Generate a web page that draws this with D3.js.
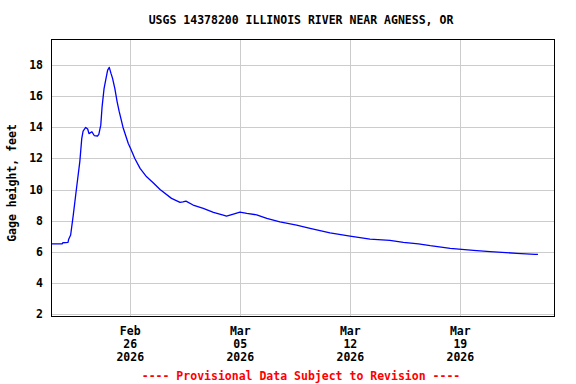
<!DOCTYPE html>
<html>
<head>
<meta charset="utf-8">
<script src="https://cdn.jsdelivr.net/npm/d3@7"></script>
<style>
  body { margin: 0; background: #fff; }
  text { font-family: "DejaVu Sans Mono", monospace; font-weight: bold; }
</style>
</head>
<body>
<svg id="chart" width="576" height="384"></svg>
<script>
// gage height readings
const times = [
  "2026-02-20 23:00", "2026-02-21 16:00", "2026-02-21 17:00", "2026-02-22 01:00",
  "2026-02-22 02:00", "2026-02-22 05:00", "2026-02-22 09:00", "2026-02-22 14:00",
  "2026-02-22 19:00", "2026-02-22 22:00", "2026-02-23 00:00", "2026-02-23 04:00",
  "2026-02-23 07:00", "2026-02-23 09:00", "2026-02-23 13:30", "2026-02-23 17:00",
  "2026-02-23 22:00", "2026-02-24 00:00", "2026-02-24 03:00", "2026-02-24 05:00",
  "2026-02-24 08:00", "2026-02-24 11:00", "2026-02-24 13:30", "2026-02-24 16:00",
  "2026-02-24 18:30", "2026-02-24 21:00", "2026-02-25 00:30", "2026-02-25 04:00",
  "2026-02-25 07:00", "2026-02-25 13:00", "2026-02-25 21:00", "2026-02-26 00:30",
  "2026-02-26 07:00", "2026-02-26 15:00", "2026-02-27 01:00", "2026-02-27 11:00",
  "2026-02-27 21:30", "2026-02-28 15:00",
  "2026-03-01 04:00", "2026-03-01 08:30", "2026-03-01 13:00", "2026-03-02 00:00",
  "2026-03-02 15:30", "2026-03-03 07:00", "2026-03-03 22:00", "2026-03-04 03:00",
  "2026-03-04 13:30", "2026-03-04 23:30", "2026-03-05 10:00", "2026-03-06 01:00",
  "2026-03-06 16:30", "2026-03-07 12:30", "2026-03-08 14:00", "2026-03-09 10:30",
  "2026-03-10 17:00", "2026-03-11 23:30", "2026-03-13 06:00", "2026-03-14 12:30",
  "2026-03-15 09:00", "2026-03-16 08:00", "2026-03-17 02:00", "2026-03-18 08:30",
  "2026-03-19 20:00", "2026-03-20 21:30", "2026-03-22 14:00", "2026-03-23 18:00",
  "2026-03-23 22:30"
];
const gageHeight = [
  6.5, 6.5, 6.57, 6.6,
  6.8, 7.07, 8.35, 10.1,
  11.8, 13.3, 13.77, 14.0,
  13.9, 13.6, 13.72, 13.48,
  13.45, 13.55, 14.15, 15.33,
  16.5, 17.16, 17.7, 17.87,
  17.5, 17.16, 16.5, 15.65,
  15.05, 14.0, 12.97, 12.65,
  12.0, 11.36, 10.82, 10.44,
  10.0, 9.43,
  9.17, 9.2, 9.25, 9.0,
  8.79, 8.53, 8.35, 8.29,
  8.42, 8.55, 8.46, 8.37,
  8.14, 7.92, 7.71, 7.5,
  7.21, 7.0, 6.81, 6.72,
  6.6, 6.5, 6.38, 6.21,
  6.08, 6.0, 5.89, 5.82,
  5.82
];
const tickDates = ["2026-02-26 00:00", "2026-03-05 00:00", "2026-03-12 00:00", "2026-03-19 00:00"];
const yTicks = [2, 4, 6, 8, 10, 12, 14, 16, 18];
const xDomain = ["2026-02-20 23:00", "2026-03-24 23:00"];
const yDomain = [1.85, 19.7];

const parse = d3.timeParse("%Y-%m-%d %H:%M");
const data = times.map((t, i) => ({ t: parse(t), v: gageHeight[i] }));

const width = 576, height = 384;
const margin = { top: 39, right: 22, bottom: 68, left: 51 };

const svg = d3.select("#chart");

const x = d3.scaleTime()
  .domain(xDomain.map(parse))
  .range([margin.left, width - margin.right]);

const y = d3.scaleLinear()
  .domain(yDomain)
  .range([height - margin.bottom, margin.top]);

// grid
svg.append("g")
  .selectAll("line")
  .data(yTicks)
  .enter()
  .append("line")
  .attr("x1", margin.left)
  .attr("x2", width - margin.right)
  .attr("y1", d => Math.round(y(d)) + 0.5)
  .attr("y2", d => Math.round(y(d)) + 0.5)
  .attr("stroke", "#cccccc");

svg.append("g")
  .selectAll("line")
  .data(tickDates.map(parse))
  .enter()
  .append("line")
  .attr("x1", d => Math.round(x(d)) + 0.5)
  .attr("x2", d => Math.round(x(d)) + 0.5)
  .attr("y1", margin.top)
  .attr("y2", height - margin.bottom)
  .attr("stroke", "#cccccc");

// the hydrograph
const line = d3.line()
  .x(d => x(d.t))
  .y(d => y(d.v));

svg.append("path")
  .datum(data)
  .attr("d", line)
  .attr("fill", "none")
  .attr("stroke", "#0000ff")
  .attr("stroke-width", 1.3)
  .attr("stroke-linejoin", "round");

// frame
svg.append("rect")
  .attr("x", margin.left + 0.5)
  .attr("y", margin.top + 0.5)
  .attr("width", width - margin.left - margin.right)
  .attr("height", height - margin.top - margin.bottom)
  .attr("fill", "none")
  .attr("stroke", "#000");

// y tick labels
svg.append("g")
  .selectAll("text")
  .data(yTicks)
  .enter()
  .append("text")
  .attr("x", 43)
  .attr("y", d => y(d) + 4)
  .attr("text-anchor", "end")
  .style("font-size", "11.5px")
  .text(d => d);

// x tick labels, three lines each
const fmt = [d3.timeFormat("%b"), d3.timeFormat("%d"), d3.timeFormat("%Y")];
const xLabels = svg.append("g")
  .selectAll("text")
  .data(tickDates.map(parse))
  .enter()
  .append("text")
  .attr("text-anchor", "middle")
  .style("font-size", "11.5px");

fmt.forEach((f, i) => {
  xLabels.append("tspan")
    .attr("x", d => x(d))
    .attr("y", 335 + i * 13)
    .text(d => f(d));
});

// title
svg.append("text")
  .attr("x", 301)
  .attr("y", 24)
  .attr("text-anchor", "middle")
  .style("font-size", "11.5px")
  .text("USGS 14378200 ILLINOIS RIVER NEAR AGNESS, OR");

// y axis title
svg.append("text")
  .attr("transform", "translate(16,183) rotate(-90)")
  .attr("text-anchor", "middle")
  .style("font-size", "11.5px")
  .text("Gage height, feet");

// footer
svg.append("text")
  .attr("x", 301)
  .attr("y", 380)
  .attr("text-anchor", "middle")
  .attr("fill", "#ff0000")
  .style("font-size", "11.5px")
  .text("---- Provisional Data Subject to Revision ----");
</script>
</body>
</html>
